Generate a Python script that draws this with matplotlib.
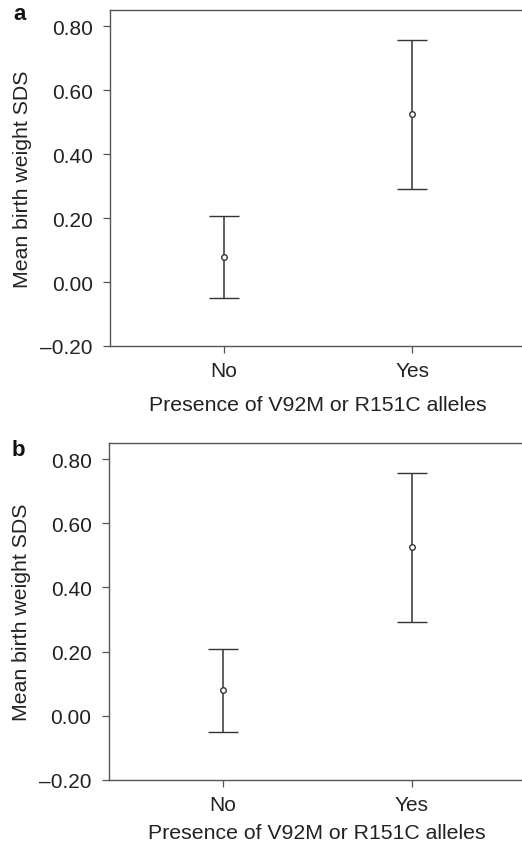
import matplotlib
matplotlib.use("Agg")
from matplotlib import pyplot as plt

# data
groups = ["No", "Yes"]
means = [0.079, 0.525]
upper = [0.208, 0.758]
lower = [-0.051, 0.292]
yticks = [-0.20, 0.00, 0.20, 0.40, 0.60, 0.80]

plt.rcParams['font.family'] = ['Liberation Sans', 'DejaVu Sans']

line_col = "#333333"
spine_col = "#555555"

fig = plt.figure(figsize=(5.22, 8.45), dpi=100)

# letter, axes rect, letter position, xlabel pad
panels = [
    ("a", [110 / 522, 1 - 347 / 845, 415 / 522, 336 / 845], (13 / 522, 1 - 15 / 845), 11),
    ("b", [108.7 / 522, 1 - 780.7 / 845, 416 / 522, 336.7 / 845], (12 / 522, 1 - 450 / 845), 7),
]

x = [1, 2]
for letter, rect, lab_pos, xpad in panels:
    ax = fig.add_axes(rect)
    err_lo = [m - lo for m, lo in zip(means, lower)]
    err_hi = [hi - m for m, hi in zip(means, upper)]
    ax.errorbar(x, means, yerr=[err_lo, err_hi], fmt='o', color=line_col,
                markerfacecolor='white', markeredgecolor=line_col, markersize=4,
                markeredgewidth=1.0, ecolor=line_col, elinewidth=1.1,
                capsize=11, capthick=1.1)
    ax.set_xlim(0.394, 2.6)
    ax.set_ylim(-0.20, 0.851)
    ax.set_xticks(x)
    ax.set_xticklabels(groups)
    ax.set_yticks(yticks)
    ax.set_yticklabels([f"{v:.2f}".replace("-", "\u2013") for v in yticks])
    ax.tick_params(direction='out', length=4.8, width=0.9, color=spine_col,
                   labelsize=15, labelcolor="#222222")
    ax.tick_params(axis='y', pad=7.5)
    ax.tick_params(axis='x', pad=6)
    for side in ['left', 'bottom', 'top']:
        ax.spines[side].set_color(spine_col)
        ax.spines[side].set_linewidth(1.0)
    ax.spines['right'].set_visible(False)
    ax.set_ylabel("Mean birth weight SDS", fontsize=15.3, color="#222222", labelpad=6)
    ax.set_xlabel("Presence of V92M or R151C alleles", fontsize=15.3, color="#222222", labelpad=xpad)
    fig.text(lab_pos[0], lab_pos[1], letter, fontsize=16, fontweight='bold',
             ha='left', va='center', color="#111111")

fig.savefig("out.png", dpi=100, facecolor='white')
